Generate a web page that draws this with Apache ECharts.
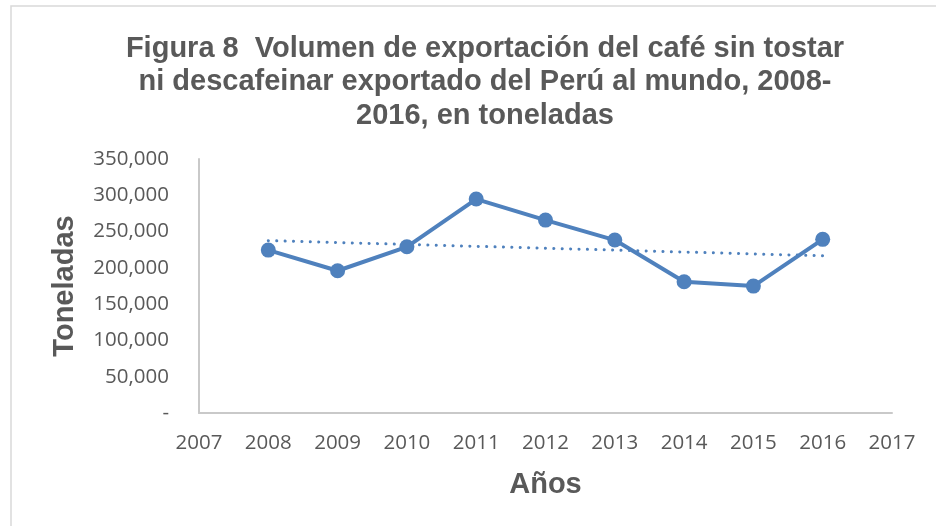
<!DOCTYPE html>
<html>
<head>
<meta charset="utf-8">
<script src="https://cdn.jsdelivr.net/npm/echarts@6/dist/echarts.min.js"></script>
<style>html,body{margin:0;padding:0;background:#fff}#c{width:936px;height:526px}</style>
</head>
<body>
<div id="c"></div>
<script>
const years = [2008, 2009, 2010, 2011, 2012, 2013, 2014, 2015, 2016];
const volumes = [224500, 196000, 229000, 294800, 265800, 238300, 180900, 174900, 239300];
const yTicks = [0, 50000, 100000, 150000, 200000, 250000, 300000, 350000];
const xTicks = [2007, 2008, 2009, 2010, 2011, 2012, 2013, 2014, 2015, 2016, 2017];

// linear trendline (least squares) from data
const n = years.length;
const mx = years.reduce((a, b) => a + b, 0) / n;
const my = volumes.reduce((a, b) => a + b, 0) / n;
let sxy = 0, sxx = 0;
for (let i = 0; i < n; i++) { sxy += (years[i] - mx) * (volumes[i] - my); sxx += (years[i] - mx) ** 2; }
const slope = sxy / sxx, icpt = my - slope * mx;
const trend = [[years[0], icpt + slope * years[0]], [years[n - 1], icpt + slope * years[n - 1]]];

const chart = echarts.init(document.getElementById('c'), null, {renderer: 'canvas'});
const grey = '#595959';
chart.setOption({
  animation: false,
  backgroundColor: '#fff',
  title: {
    text: 'Figura 8  Volumen de exportación del café sin tostar\nni descafeinar exportado del Perú al mundo, 2008-\n2016, en toneladas',
    left: 480, top: 27, textAlign: 'center',
    textStyle: {fontFamily: 'Liberation Sans', fontWeight: 'bold', fontSize: 29, color: grey, lineHeight: 33.5}
  },
  graphic: [{
    type: 'rect', shape: {x: 11, y: 6, width: 1000, height: 600},
    style: {fill: 'none', stroke: '#d9d9d9', lineWidth: 1.5}, silent: true, z: -1
  }],
  grid: {left: 199, right: 44, top: 159, bottom: 113},
  xAxis: {
    type: 'value', min: xTicks[0], max: xTicks[xTicks.length - 1], interval: 1,
    name: 'Años', nameLocation: 'middle', nameGap: 57,
    nameTextStyle: {fontFamily: 'Liberation Sans', fontWeight: 'bold', fontSize: 29, color: grey},
    axisLine: {show: true, lineStyle: {color: '#c9c9c9', width: 2}},
    axisTick: {show: false}, splitLine: {show: false},
    axisLabel: {color: grey, fontFamily: 'Open Sans', fontSize: 20.5, margin: 20, formatter: v => String(v)}
  },
  yAxis: {
    type: 'value', min: yTicks[0], max: yTicks[yTicks.length - 1], interval: 50000,
    name: 'Toneladas', nameLocation: 'middle', nameGap: 120, nameRotate: 90,
    nameTextStyle: {fontFamily: 'Liberation Sans', fontWeight: 'bold', fontSize: 29, color: grey},
    axisLine: {show: true, lineStyle: {color: '#c9c9c9', width: 2}},
    axisTick: {show: false}, splitLine: {show: false},
    axisLabel: {color: grey, fontFamily: 'Open Sans', fontSize: 20.5, margin: 30,
      formatter: v => v === 0 ? '-' : v.toLocaleString('en-US')}
  },
  series: [{
    type: 'line', data: years.map((y, i) => [y, volumes[i]]),
    symbol: 'circle', symbolSize: 15,
    lineStyle: {color: '#4f81bd', width: 4},
    itemStyle: {color: '#4f81bd'}, z: 3
  }, {
    type: 'line', data: trend, symbol: 'none',
    lineStyle: {color: '#4f81bd', width: 3, type: [0.1, 8.3], cap: 'round'}, z: 2
  }]
});
</script>
</body>
</html>
